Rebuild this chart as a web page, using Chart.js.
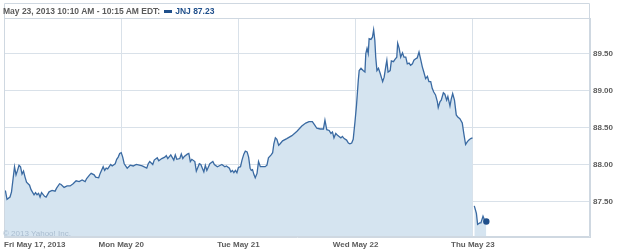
<!DOCTYPE html>
<html><head><meta charset="utf-8">
<script src="https://cdn.jsdelivr.net/npm/chart.js@4.4.0/dist/chart.umd.min.js"></script>
<style>
html,body{margin:0;padding:0;background:#fff;}
#wrap{position:relative;width:625px;height:250px;overflow:hidden;}
#c{position:absolute;left:0;top:0;}
#legend{position:absolute;left:3px;top:5px;font:bold 8.5px "Liberation Sans",Arial,sans-serif;color:#5c5c5c;white-space:nowrap;line-height:12px;}
#legend .sw{display:inline-block;width:8px;height:3px;background:#1f4f8b;vertical-align:middle;margin:0 3px 1px 4px;}
#legend .sym{color:#1f4f8b;}
#copy{position:absolute;left:3px;top:228px;font:8px "Liberation Sans",Arial,sans-serif;color:#a9bccf;line-height:11px;white-space:nowrap;}
</style>
</head><body>
<div id="wrap">
<canvas id="c" width="625" height="250"></canvas>
<div id="legend">May 23, 2013 10:10 AM - 10:15 AM EDT:<span class="sw"></span><span class="sym">JNJ 87.23</span></div>
<div id="copy">© 2013 Yahoo! Inc.</div>
</div>
<script>
// minutes since each day's open, and prices
const dayLabels = ['Fri May 17, 2013','Mon May 20','Tue May 21','Wed May 22','Thu May 23'];
const yTickValues = [87.5, 88.0, 88.5, 89.0, 89.5];

const friMin = [0,5,10,20,25,35,40,45,50,55,60,65,70,75,85,90,100,105,110,115,120,125,135,140,150,160,170,175,185,190,200,210,220,230,240,250,260,270,275,285,290,300,305,315,320,330,335,340,345,355,360,370,375,380,385];
const friPx  = [87.65,87.64,87.53,87.56,87.63,87.97,87.86,87.92,87.99,87.97,87.87,87.91,87.83,87.76,87.72,87.66,87.59,87.62,87.59,87.61,87.56,87.62,87.57,87.56,87.63,87.65,87.64,87.68,87.74,87.73,87.69,87.71,87.71,87.74,87.78,87.77,87.79,87.77,87.81,87.86,87.88,87.86,87.83,87.82,87.88,87.97,87.92,87.95,87.94,88.00,87.98,88.01,88.07,88.10,88.15];

const monMin = [0,5,10,20,30,40,50,60,70,85,90,95,105,110,120,125,135,145,150,155,165,175,180,185,195,200,205,210,220,225,230,235,245,250,260,265,275,280,285,295,305,310,320,330,335,345,350,360,365,370,375,380,385];
const monPx  = [88.16,88.10,88.01,87.95,87.99,87.98,88.00,87.99,87.98,87.95,88.01,88.04,88.00,88.06,88.09,88.05,88.08,88.10,88.12,88.08,88.13,88.06,88.13,88.07,88.08,88.14,88.08,88.11,88.14,88.15,88.04,88.07,88.04,87.91,88.01,88.00,87.90,87.99,87.92,88.01,88.04,88.00,87.97,87.99,88.00,87.97,87.98,87.95,87.90,87.92,87.89,87.92,87.89];

const tueMin = [0,7,12,18,23,29,34,39,43,47,52,56,62,67,73,81,89,95,100,109,114,118,123,128,134,139,147,161,178,195,211,224,235,246,253,261,272,283,288,294,302,308,313,318,324,329,335,341,346,352,360,366,371,377,382,388];
const tuePx  = [87.96,87.97,88.06,88.14,88.18,88.17,88.10,87.95,87.92,87.93,87.86,87.82,87.88,88.04,87.97,87.97,87.97,87.99,88.09,88.13,88.16,88.28,88.36,88.34,88.26,88.28,88.32,88.35,88.39,88.45,88.52,88.56,88.58,88.58,88.54,88.49,88.48,88.48,88.60,88.47,88.46,88.42,88.44,88.36,88.42,88.40,88.38,88.36,88.38,88.35,88.33,88.29,88.28,88.29,88.34,88.58];

const wedMin = [3,9,12,18,25,31,34,38,42,45,51,56,60,64,67,71,76,82,90,95,101,104,108,115,119,126,131,137,140,145,150,156,161,167,172,178,183,189,194,200,205,211,216,222,227,233,239,244,250,255,260,266,272,275,281,285,292,297,303,307,314,318,323,329,335,340,347,355,360,366,372,377,383,389];
const wedPx  = [88.80,89.14,89.27,89.30,89.27,89.25,89.50,89.57,89.50,89.70,89.69,89.72,89.82,89.68,89.45,89.27,89.30,89.23,89.12,89.18,89.34,89.41,89.25,89.27,89.40,89.39,89.42,89.45,89.64,89.57,89.45,89.51,89.45,89.45,89.36,89.37,89.34,89.36,89.41,89.43,89.44,89.52,89.43,89.32,89.25,89.16,89.19,89.12,89.12,89.03,88.98,88.94,88.85,88.77,88.85,88.87,88.97,88.95,88.87,88.92,88.79,88.88,88.96,88.87,88.67,88.64,88.62,88.56,88.42,88.27,88.31,88.33,88.35,88.36];

const thuMin = [5,12,16,23,27,34,39,45];
const thuPx  = [87.44,87.34,87.19,87.21,87.21,87.30,87.25,87.23];

const SESSION = 390;
function toPts(day, mins, px){ return mins.map((m,i)=>({x: day*SESSION + m, y: px[i]})); }
const mainData = [].concat(toPts(0,friMin,friPx), toPts(1,monMin,monPx), toPts(2,tueMin,tuePx), toPts(3,wedMin,wedPx));
const thuData = toPts(4,thuMin,thuPx);

const LINE = '#3a6aa2', FILL = '#d5e4f0', GRID = '#d9e1e9', FRAME = '#cfd8e1', LBL = '#5c5c5c';

const framePlugin = {
  id:'frame',
  afterDraw(chart){
    const a = chart.chartArea, ctx = chart.ctx;
    ctx.save();
    ctx.strokeStyle = FRAME; ctx.lineWidth = 1;
    ctx.beginPath();
    const l = Math.round(a.left)+0.5, r = Math.round(a.right)-0.5, b = Math.round(a.bottom)-0.5;
    ctx.moveTo(l, 3.5); ctx.lineTo(r, 3.5); ctx.lineTo(r, b); ctx.lineTo(l, b); ctx.closePath();
    ctx.moveTo(l, Math.round(a.top)+0.5); ctx.lineTo(r, Math.round(a.top)+0.5);
    ctx.stroke();
    ctx.restore();
  }
};

new Chart(document.getElementById('c'), {
  type:'line',
  data:{ datasets:[
    {data: mainData, borderColor: LINE, backgroundColor: FILL, borderWidth: 1.3, fill: 'start', pointRadius: 0, tension: 0},
    {data: thuData, borderColor: LINE, backgroundColor: FILL, borderWidth: 1.3, fill: 'start', tension: 0,
     pointRadius: c => c.dataIndex === thuPx.length-1 ? 3.2 : 0, pointBackgroundColor: '#1f4f8b', pointBorderColor: '#1f4f8b', pointBorderWidth: 0}
  ]},
  options:{
    responsive:false, animation:false, devicePixelRatio:1,
    layout:{padding:{top:18, left:2, right:0, bottom:0}},
    plugins:{legend:{display:false}, tooltip:{enabled:false}},
    scales:{
      x:{type:'linear', min:0, max:5*SESSION, position:'bottom',
        afterBuildTicks: s => { s.ticks = [0,1,2,3,4,5].map(i=>({value:i*SESSION})); },
        afterFit: s => { s.height = 13; },
        grid:{color: GRID, drawTicks:false, lineWidth:1},
        border:{display:true, color: FRAME},
        ticks:{autoSkip:false, maxRotation:0, align:'inner', padding:3, color: LBL,
          font:{family:'"Liberation Sans", Arial, sans-serif', size:8, weight:'bold'},
          callback: (v) => { const i = Math.round(v/SESSION); return i < dayLabels.length ? dayLabels[i] : ''; }}
      },
      y:{type:'linear', position:'right', min:87.02, max:89.98,
        afterBuildTicks: s => { s.ticks = yTickValues.map(v=>({value:v})); },
        afterFit: s => { s.width = 35; },
        grid:{color: GRID, drawTicks:false, lineWidth:1},
        border:{display:true, color: FRAME},
        ticks:{padding:3, color: LBL, font:{family:'"Liberation Sans", Arial, sans-serif', size:8, weight:'bold'},
          callback: v => Number(v).toFixed(2)}
      }
    }
  },
  plugins:[framePlugin]
});
</script>
</body></html>
